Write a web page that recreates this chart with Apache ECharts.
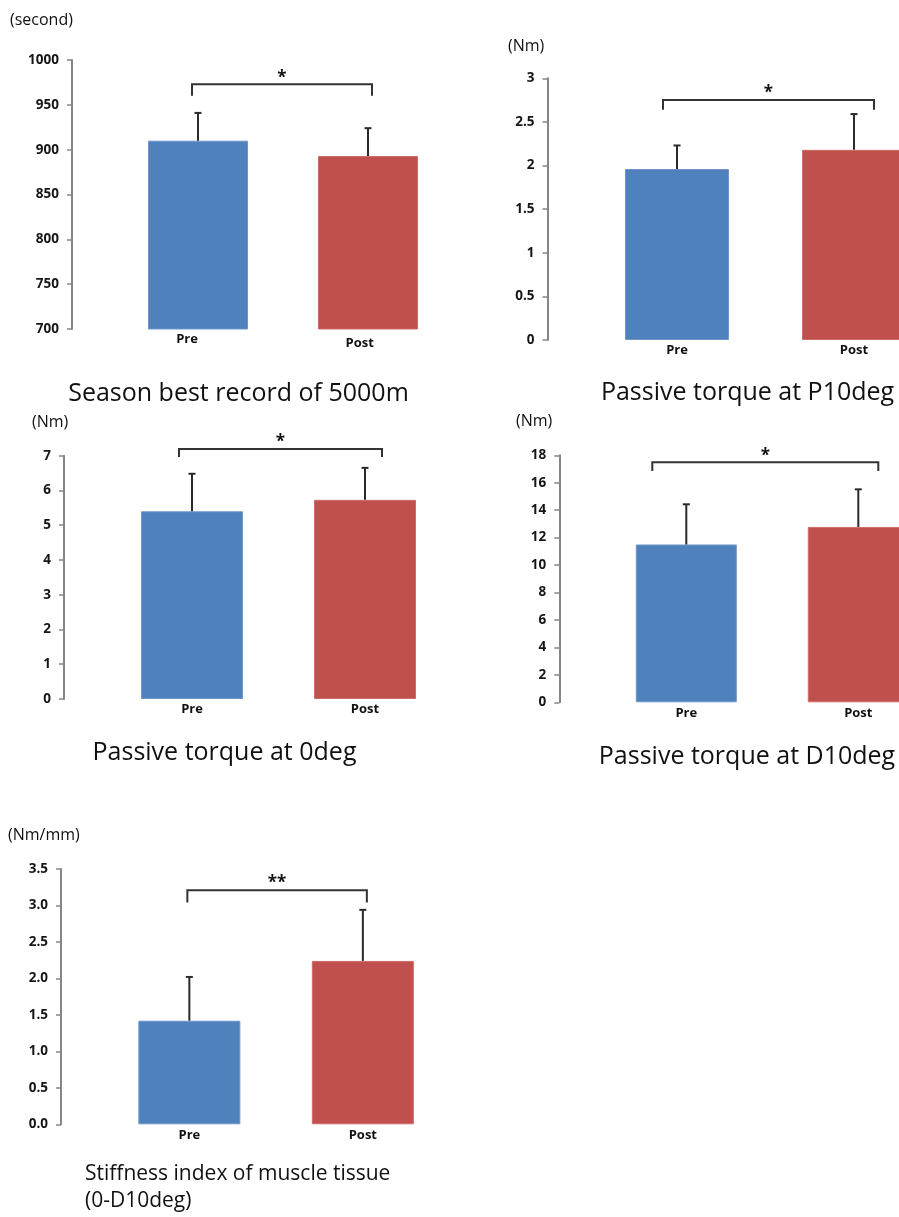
<!DOCTYPE html>
<html>
<head>
<meta charset="utf-8">
<script src="https://cdn.jsdelivr.net/npm/echarts@6/dist/echarts.min.js"></script>
<style>
html,body{margin:0;padding:0;background:#fff;}
#chart{width:899px;height:1217px;}
</style>
</head>
<body>
<div id="chart"></div>
<script>
// ---------- data ----------
const categories = ['Pre', 'Post'];
const panelTitles = ['Season best record of 5000m', 'Passive torque at P10deg', 'Passive torque at 0deg', 'Passive torque at D10deg', 'Stiffness index of muscle tissue\n(0-D10deg)'];
const unitLabels = ['(second)', '(Nm)', '(Nm)', '(Nm)', '(Nm/mm)'];

const recordMean = [910, 893];
const recordSD = [31, 31];
const torqueP10Mean = [1.96, 2.18];
const torqueP10SD = [0.27, 0.41];
const torque0Mean = [5.40, 5.73];
const torque0SD = [1.08, 0.92];
const torqueD10Mean = [11.5, 12.78];
const torqueD10SD = [2.93, 2.74];
const stiffnessMean = [1.42, 2.24];
const stiffnessSD = [0.60, 0.70];

const significance = ['*', '*', '*', '*', '**'];
// bracket level and end-drop level (data units)
const bracketLevel = [973, 2.75, 7.19, 17.49, 3.21];
const bracketDrop = [960, 2.64, 6.96, 16.86, 3.04];

// axis ranges / ticks
const axisMin = [700, 0, 0, 0, 0];
const axisMax = [1000, 3, 7, 18, 3.5];
const axisStep = [50, 0.5, 1, 2, 0.5];
const axisDecimals = [null, null, null, null, 1];

const means = [recordMean, torqueP10Mean, torque0Mean, torqueD10Mean, stiffnessMean];
const sds = [recordSD, torqueP10SD, torque0SD, torqueD10SD, stiffnessSD];

// ---------- layout (pixels / styles) ----------
const layout = [
  {left:113, top:60, width:340, height:269, offset:41, barWidth:100, unit:[10,20], title:[238.5,394], inset:[-6,4], labelShift:11, labelDrop:[0,4]},
  {left:588.5, top:78.3, width:354, height:261.7, offset:41, barWidth:104, unit:[508,46], title:[747.5,393], inset:[-14,20], labelShift:0, labelDrop:[0,0]},
  {left:105.5, top:455.7, width:346, height:243.3, offset:41.5, barWidth:102, unit:[32,422], title:[224.5,753], inset:[-13,17], labelShift:0, labelDrop:[0,0]},
  {left:600.3, top:455.3, width:344, height:247, offset:41, barWidth:101, unit:[516,421], title:[747,757], inset:[-34,20], labelShift:0, labelDrop:[0,0]},
  {left:102.6, top:869, width:347, height:255.3, offset:41.6, barWidth:102, unit:[8,835], title:[85,1175], inset:[-2,4], labelShift:0, labelDrop:[0,0]}
];
const barColors = ['#4F81BD', '#C0504D'];
const barBorders = ['#6D96C9', '#CD6C69'];
const TEXT_FONT = '"Open Sans", "Noto Sans", sans-serif';

const chart = echarts.init(document.getElementById('chart'), null, {renderer: 'canvas'});

const grids = [], xAxes = [], yAxes = [], series = [], graphics = [];

layout.forEach((L, i) => {
  grids.push({left: L.left, top: L.top, width: L.width, height: L.height, containLabel: false, outerBoundsMode: 'none'});
  xAxes.push({
    type: 'category', gridIndex: i,
    data: categories.map((c, k) => ({value: c, textStyle: {padding: [L.labelDrop[k], (k === 0 ? L.labelShift * 2 : L.labelShift * 1.5), 0, 0]}})),
    axisLine: {show: false}, axisTick: {show: false},
    axisLabel: {color: '#111', fontWeight: 'bold', fontSize: 13, fontFamily: TEXT_FONT, margin: 4}
  });
  const dec = axisDecimals[i];
  yAxes.push({
    type: 'value', gridIndex: i, position: 'left', offset: L.offset,
    min: axisMin[i], max: axisMax[i], interval: axisStep[i],
    axisLine: {show: true, lineStyle: {color: '#868686', width: 2}},
    axisTick: {show: true, length: 5, lineStyle: {color: '#868686', width: 1.5}},
    splitLine: {show: false},
    axisLabel: {
      color: '#151515', fontWeight: 'bold', fontSize: 13.5, fontFamily: TEXT_FONT, margin: 13,
      formatter: v => dec == null ? String(Math.round(v * 100) / 100) : v.toFixed(dec)
    }
  });
  series.push({
    type: 'bar', xAxisIndex: i, yAxisIndex: i, barWidth: L.barWidth, silent: true,
    data: means[i].map((v, k) => ({value: v, itemStyle: {color: barColors[k], borderColor: barBorders[k], borderWidth: 1}}))
  });
  // error bars
  series.push({
    type: 'custom', xAxisIndex: i, yAxisIndex: i, silent: true, z: 5,
    data: means[i].map((v, k) => [k, v, v + sds[i][k]]),
    encode: {x: 0, y: [1, 2]},
    renderItem: (params, api) => {
      const p0 = api.coord([api.value(0), api.value(1)]);
      const p1 = api.coord([api.value(0), api.value(2)]);
      const st = {stroke: '#2a2a2a', lineWidth: 2};
      return {type: 'group', children: [
        {type: 'line', shape: {x1: p0[0], y1: p0[1], x2: p1[0], y2: p1[1]}, style: st},
        {type: 'line', shape: {x1: p1[0] - 3.5, y1: p1[1], x2: p1[0] + 3.5, y2: p1[1]}, style: st}
      ]};
    }
  });
  // significance bracket
  series.push({
    type: 'custom', xAxisIndex: i, yAxisIndex: i, silent: true, z: 5, clip: false,
    data: [[0, 1, bracketLevel[i], bracketDrop[i]]],
    encode: {x: [0, 1], y: [2, 3]},
    renderItem: (params, api) => {
      const a = api.coord([api.value(0), api.value(2)]);
      const b = api.coord([api.value(1), api.value(2)]);
      const d = api.coord([api.value(0), api.value(3)]);
      const xl = a[0] + L.inset[0], xr = b[0] + L.inset[1], y = a[1], yd = d[1];
      return {type: 'group', children: [
        {type: 'polyline', shape: {points: [[xl, yd], [xl, y], [xr, y], [xr, yd]]}, style: {stroke: '#333', lineWidth: 2, fill: null}},
        {type: 'text', x: (xl + xr) / 2, y: y + 2, style: {text: significance[i], fill: '#111', font: 'bold 17px ' + TEXT_FONT, align: 'center', verticalAlign: 'bottom'}}
      ]};
    }
  });
  graphics.push({type: 'text', x: L.unit[0], y: L.unit[1], style: {text: unitLabels[i], fill: '#111', font: '16px ' + TEXT_FONT, verticalAlign: 'middle'}});
  if (i < 4) {
    graphics.push({type: 'text', x: L.title[0], y: L.title[1], style: {text: panelTitles[i], fill: '#111', font: '25px ' + TEXT_FONT, align: 'center', verticalAlign: 'middle'}});
  } else {
    graphics.push({type: 'text', x: L.title[0], y: L.title[1] - 14, style: {text: panelTitles[i], fill: '#111', font: '21px ' + TEXT_FONT, align: 'left', verticalAlign: 'top', lineHeight: 27}});
  }
});

chart.setOption({
  backgroundColor: '#fff',
  animation: false,
  grid: grids, xAxis: xAxes, yAxis: yAxes, series: series, graphic: graphics
});
</script>
</body>
</html>
